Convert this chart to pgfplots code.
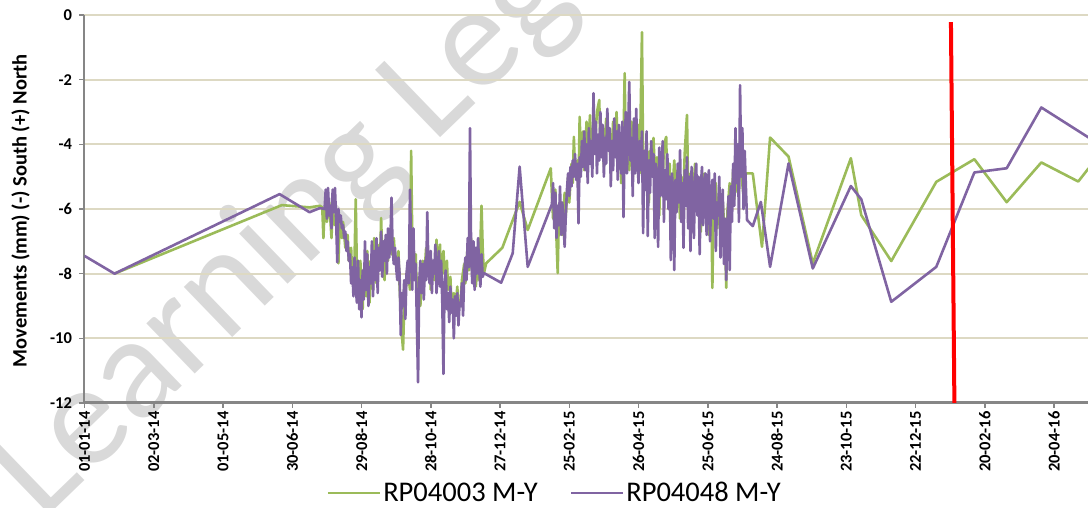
\documentclass[border=0pt]{standalone}
\usepackage{fontspec}
\setmainfont{Carlito}
\usepackage{pgfplots}
\pgfplotsset{compat=1.18}
\definecolor{cgreen}{HTML}{9BBB59}
\definecolor{cpurple}{HTML}{8064A2}
\definecolor{cgrid}{HTML}{DDD9C3}
\definecolor{caxis}{HTML}{868686}
\definecolor{cwm}{HTML}{D9D9D9}
\begin{document}
\begin{tikzpicture}
% watermark
\node[anchor=base west, rotate=44, inner sep=0pt, text=cwm, font=\fontsize{146}{150}\selectfont] at (42pt,-14pt) {Learning Legends};
\begin{axis}[
  at={(84.5pt,105pt)}, anchor=south west,
  scale only axis, width=1003.5pt, height=388pt,
  xmin=0, xmax=869.4, ymin=-12, ymax=0,
  axis x line=bottom, axis y line=left,
  axis line style={-, draw=caxis, line width=2pt},
  x axis line style={line width=3pt},
  ymajorgrids, grid style={cgrid, line width=2pt},
  tick align=outside, major tick length=5pt,
  tick style={caxis, line width=1.5pt},
  ytick={-12,-10,-8,-6,-4,-2,0},
  yticklabels={-12,-10,-8,-6,-4,-2,0},
  xtick={0,60,120,180,240,300,360,420,480,540,600,660,720,780,840},
  xticklabels={01-01-14,02-03-14,01-05-14,30-06-14,29-08-14,28-10-14,27-12-14,25-02-15,26-04-15,25-06-15,24-08-15,23-10-15,22-12-15,20-02-16,20-04-16},
  ticklabel style={font=\fontsize{16.5}{19}\selectfont\bfseries},
  xticklabel style={rotate=90, anchor=east},
  yticklabel style={xshift=-4pt},
  ylabel={Movements (mm) (-) South (+) North},
  ylabel style={at={(axis description cs:-0.0638,0.495)}, anchor=center, font=\fontsize{20.5}{24}\selectfont\bfseries},
  legend style={at={(axis description cs:0.4686,-0.232)}, anchor=center, draw=none, fill=none,
    legend columns=2, font=\fontsize{28.5}{32}\selectfont,
    /tikz/every even column/.append style={column sep=30pt}},
  legend image code/.code={\draw[#1] (0pt,0pt) -- (52pt,0pt);},
  every axis plot/.append style={line join=round},
  clip=true,
]
\addplot[cgreen, line width=2.6pt] coordinates {
(26,-8.0) (171,-5.88) (195,-5.95) (204,-5.9)
(206,-5.95) (207,-6.9) (208,-6.0) (210,-6.4) (212,-5.8) (213,-6.3) (214,-6.9) (215,-6.0) (217,-6.5) (218,-6.2) (220,-7.68) (221,-6.4) (223,-6.9) (224,-6.4) (226,-7.2) (228,-6.8) (229,-7.6) (231,-7.2) (232,-8.1) (234,-7.5) (235,-5.7) (236,-7.9) (238,-8.6) (239,-7.6) (241,-9.1) (242,-8.0) (244,-8.7) (245,-7.3) (247,-8.9) (248,-7.6) (250,-8.5) (251,-6.9) (253,-8.3) (254,-7.1) (256,-7.8) (257,-6.28) (258,-7.5) (260,-8.2) (261,-7.0) (263,-7.6) (264,-6.8) (266,-7.4) (268,-6.9) (269,-7.5) (271,-7.9) (272,-7.3) (273,-8.4) (275,-9.9) (276,-10.35) (277,-9.0) (279,-8.2) (280,-7.8) (282,-8.5) (283,-4.2) (284,-7.0) (285,-8.0) (287,-7.4) (288,-8.8) (290,-8.1) (291,-9.0) (293,-7.6) (294,-8.3) (296,-7.2) (297,-8.0) (299,-7.5) (300,-8.5) (302,-7.7) (303,-8.2) (305,-6.95) (306,-7.8) (308,-7.1) (309,-8.3) (311,-7.3) (312,-8.0) (314,-7.6) (315,-8.5) (317,-8.1) (318,-9.0) (320,-8.6) (321,-9.3) (323,-8.4) (324,-9.1) (326,-8.8) (327,-8.2) (329,-7.7) (330,-8.3) (332,-7.1) (333,-7.9) (335,-6.9) (336,-8.0) (338,-7.3) (339,-8.4) (341,-7.6) (342,-8.2) (344,-5.9) (345,-7.2) (346,-8.0) (348,-7.68)
(362,-7.2) (377,-5.78) (384,-6.65) (404,-4.74)
(405,-5.6) (406,-6.3) (408,-5.4) (409,-7.0) (410,-7.98) (411,-6.2) (413,-5.8) (414,-6.8) (416,-5.5) (417,-6.2) (419,-5.0) (420,-5.8) (422,-4.6) (423,-5.2) (424,-3.77) (425,-4.9) (427,-4.5) (428,-5.4) (429,-3.15) (430,-4.3) (432,-3.6) (433,-4.8) (435,-3.3) (436,-4.2) (438,-3.1) (439,-4.5) (441,-3.4) (442,-4.1) (444,-3.0) (446,-2.63) (447,-4.2) (449,-3.5) (450,-4.7) (452,-3.2) (453,-4.0) (455,-3.6) (456,-4.9) (458,-3.3) (459,-4.3) (461,-3.0) (462,-4.5) (464,-3.7) (465,-5.2) (467,-3.9) (468,-1.8) (469,-4.4) (471,-3.5) (472,-4.8) (474,-3.3) (475,-5.0) (477,-3.9) (478,-4.6) (480,-3.4) (481,-4.9) (483,-0.53) (484,-4.5) (486,-5.3) (487,-3.9) (489,-5.8) (490,-4.2) (492,-5.0) (493,-3.8) (495,-5.6) (496,-4.4) (498,-6.2) (499,-4.7) (501,-5.2) (502,-4.0) (504,-3.77) (505,-5.5) (507,-4.6) (508,-6.4) (510,-5.1) (511,-4.5) (513,-5.9) (514,-4.8) (516,-6.3) (517,-5.0) (519,-5.6) (520,-4.3) (522,-3.09) (523,-5.4) (525,-4.9) (526,-6.5) (528,-5.2) (529,-4.6) (531,-6.0) (532,-5.1) (534,-6.7) (535,-5.4) (537,-4.9) (538,-6.2) (540,-5.3) (541,-6.8) (543,-5.6) (544,-8.44) (545,-6.0) (547,-5.2) (548,-6.6) (550,-5.5) (551,-7.0) (553,-5.8) (555,-6.9) (556,-8.44) (557,-6.1) (559,-5.2) (560,-6.4) (562,-4.8) (563,-5.7) (565,-4.3) (566,-5.5) (568,-3.9) (569,-4.9) (571,-5.6) (573,-4.9) (579,-4.9)
(587,-7.17) (594,-3.79) (610,-4.38) (631,-7.68) (664,-4.43) (673,-6.19) (699,-7.61) (738,-5.16) (771,-4.46) (799,-5.79) (829,-4.56) (861,-5.15) (870,-4.74)
};
\addlegendentry{RP04003 M-Y}
\addplot[cpurple, line width=2.6pt] coordinates {
(0,-7.45) (26,-8.0) (169,-5.54) (195,-6.1) (204,-5.97)
(208,-6.0) (209,-5.4) (210,-6.3) (211,-5.35) (212,-6.2) (213,-5.9) (214,-6.6) (215,-5.4) (216,-6.1) (217,-5.35) (218,-6.3) (219,-7.65) (220,-6.0) (221,-6.4) (222,-6.2) (223,-6.6) (224,-6.5) (225,-6.9) (226,-6.7) (227,-7.3) (228,-7.0) (229,-7.6) (230,-7.4) (231,-8.3) (232,-7.8) (233,-8.7) (234,-7.5) (235,-8.4) (236,-8.9) (237,-7.6) (238,-9.1) (239,-8.2) (240,-9.35) (241,-7.9) (242,-8.8) (243,-7.0) (244,-8.5) (245,-7.4) (246,-9.0) (247,-7.8) (248,-8.3) (249,-7.0) (250,-8.7) (251,-7.3) (252,-8.2) (253,-6.9) (254,-8.6) (255,-7.2) (256,-7.9) (257,-6.7) (258,-8.1) (259,-7.0) (260,-7.6) (261,-6.8) (262,-8.0) (263,-6.6) (264,-7.5) (265,-7.0) (266,-5.65) (267,-7.3) (268,-7.7) (269,-7.2) (270,-7.8) (271,-8.2) (272,-7.5) (273,-8.0) (274,-9.9) (275,-8.6) (276,-9.0) (277,-8.2) (278,-9.4) (279,-8.0) (280,-7.6) (281,-8.3) (282,-5.4) (283,-7.2) (284,-8.5) (285,-6.6) (286,-8.2) (287,-7.7) (288,-9.6) (289,-11.36) (290,-8.3) (291,-7.6) (292,-8.6) (293,-7.7) (294,-8.8) (295,-7.6) (296,-8.2) (297,-6.1) (298,-7.9) (299,-8.3) (300,-7.3) (301,-8.6) (302,-7.6) (303,-8.0) (304,-7.1) (305,-8.6) (306,-7.9) (307,-7.3) (308,-8.4) (309,-7.6) (310,-8.9) (311,-11.1) (312,-8.2) (313,-7.9) (314,-9.1) (315,-8.6) (316,-9.5) (317,-8.4) (318,-9.2) (319,-8.8) (320,-10.0) (321,-8.7) (322,-9.3) (323,-8.6) (324,-9.6) (325,-8.9) (326,-9.0) (327,-8.3) (328,-9.3) (329,-8.0) (330,-7.5) (331,-8.2) (332,-6.9) (333,-7.8) (334,-3.5) (335,-7.4) (336,-8.3) (337,-7.0) (338,-8.5) (339,-7.2) (340,-8.0) (341,-6.9) (342,-7.9) (343,-8.4) (344,-7.4) (345,-8.1) (346,-7.98)
(361,-8.28) (371,-7.37) (377,-4.69) (384,-7.79) (405,-5.85)
(406,-5.2) (407,-6.6) (408,-5.5) (409,-6.9) (410,-5.9) (411,-6.5) (412,-5.3) (413,-6.8) (414,-5.8) (415,-6.4) (416,-7.17) (417,-6.2) (418,-5.4) (419,-4.9) (420,-5.6) (421,-4.7) (422,-5.3) (423,-4.5) (424,-5.0) (425,-4.3) (426,-5.1) (427,-4.6) (428,-6.44) (429,-4.4) (430,-5.0) (431,-3.9) (432,-4.7) (433,-3.6) (434,-4.8) (435,-4.0) (436,-5.2) (437,-3.5) (438,-4.6) (439,-3.9) (440,-5.0) (441,-2.42) (442,-4.3) (443,-3.3) (444,-4.9) (445,-3.7) (446,-4.5) (447,-3.0) (448,-4.4) (449,-3.4) (450,-5.0) (451,-3.8) (452,-4.6) (453,-2.9) (454,-4.2) (455,-3.5) (456,-5.3) (457,-3.9) (458,-4.8) (459,-3.2) (460,-4.4) (461,-3.6) (462,-5.1) (463,-3.4) (464,-4.2) (465,-4.9) (466,-3.3) (467,-6.25) (468,-4.0) (469,-3.0) (470,-4.9) (471,-3.6) (472,-2.07) (473,-4.5) (474,-3.8) (475,-5.6) (476,-3.2) (477,-4.9) (478,-2.9) (479,-4.3) (480,-5.2) (481,-3.9) (482,-4.8) (483,-3.6) (484,-6.75) (485,-4.2) (486,-5.4) (487,-3.6) (488,-6.84) (489,-4.5) (490,-5.5) (491,-3.9) (492,-5.0) (493,-4.3) (494,-6.9) (495,-4.6) (496,-5.3) (497,-7.17) (498,-4.1) (499,-5.6) (500,-4.7) (501,-3.9) (502,-6.4) (503,-4.8) (504,-5.7) (505,-4.3) (506,-6.0) (507,-5.0) (508,-7.58) (509,-4.9) (510,-5.5) (511,-7.89) (512,-5.1) (513,-6.1) (514,-4.6) (515,-5.8) (516,-4.18) (517,-6.4) (518,-5.2) (519,-7.2) (520,-4.8) (521,-5.9) (522,-4.4) (523,-6.6) (524,-5.0) (525,-7.3) (526,-4.7) (527,-5.6) (528,-6.9) (529,-5.1) (530,-4.6) (531,-6.2) (532,-5.0) (533,-7.4) (534,-5.3) (535,-4.7) (536,-6.5) (537,-5.5) (538,-4.9) (539,-6.8) (540,-5.2) (541,-4.8) (542,-7.0) (543,-5.6) (544,-5.1) (545,-6.3) (546,-4.9) (547,-7.3) (548,-5.8) (549,-6.2) (550,-5.0) (551,-7.5) (552,-6.0) (553,-5.4) (554,-7.7) (555,-6.3) (556,-8.2) (557,-6.6) (558,-5.6) (559,-7.89) (560,-5.3) (561,-6.4) (562,-4.6) (563,-5.9) (564,-3.5) (565,-5.2) (566,-4.0) (567,-6.4) (568,-2.17) (569,-5.0) (570,-3.5) (571,-6.0) (572,-4.2)
(574,-6.34) (579,-6.53) (586,-5.78) (594,-7.79) (610,-4.59) (631,-7.84) (664,-5.29) (673,-5.7) (699,-8.87) (738,-7.79) (771,-4.87) (799,-4.74) (829,-2.86) (870,-3.79)
};
\addlegendentry{RP04048 M-Y}
\addplot[red, line width=4pt, forget plot] coordinates {(750.7,-0.22) (753.7,-12)};
\end{axis}
\pgfresetboundingbox
\path[use as bounding box] (0pt,0pt) rectangle (1088pt,508pt);
\end{tikzpicture}
\end{document}
